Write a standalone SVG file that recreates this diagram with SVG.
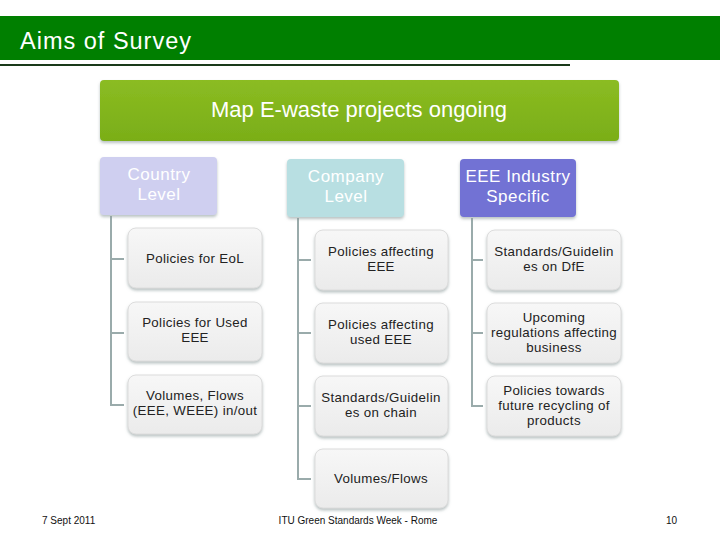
<svg xmlns="http://www.w3.org/2000/svg" width="720" height="540" viewBox="0 0 720 540">
<style>
text{font-family:"Liberation Sans",Arial,sans-serif}
.hd{fill:#fff;font-size:17px;letter-spacing:0.5px;text-anchor:middle}
.ch{fill:#222;font-size:13.3px;letter-spacing:0.35px;text-anchor:middle}
.ft{fill:#111;font-size:10px}
.box{fill:url(#gGray);stroke:#dcdcdc;stroke-width:1;filter:url(#sh)}
.con{stroke:#9aabab;stroke-width:2;fill:none}
</style>
<defs>
<linearGradient id="gGray" x1="0" y1="0" x2="0" y2="1"><stop offset="0" stop-color="#f7f7f7"/><stop offset="1" stop-color="#ebebeb"/></linearGradient>
<linearGradient id="gGreen" x1="0" y1="0" x2="0" y2="1"><stop offset="0" stop-color="#8bbc22"/><stop offset="1" stop-color="#7aae18"/></linearGradient>
<filter id="sh" x="-10%" y="-10%" width="120%" height="130%"><feDropShadow dx="0" dy="2" stdDeviation="1.5" flood-color="#8a9a9a" flood-opacity="0.6"/></filter>
</defs>
<rect width="720" height="540" fill="#fff"/>
<g id="header">
<rect x="0" y="16" width="720" height="44" fill="#007f00"/>
<text x="20" y="49" fill="#fff" font-size="23.5" letter-spacing="1">Aims of Survey</text>
<rect x="0" y="64" width="570" height="2" fill="#1a3a1a"/>
</g>
<g id="connectors">
<path class="con" d="M111 216V405H124M111 259H124M111 333H124"/>
<path class="con" d="M298 218V479H311M298 260H311M298 333H311M298 406H311"/>
<path class="con" d="M472 218V406H483M472 260H483M472 333H483"/>
</g>
<g id="root">
<rect x="100" y="80" width="519" height="61" rx="4" fill="url(#gGreen)" filter="url(#sh)"/>
<text x="359" y="117" fill="#fff" font-size="22" text-anchor="middle">Map E-waste projects ongoing</text>
</g>
<g id="country">
<rect x="100" y="157" width="117" height="58" rx="4" fill="#cfcff0" filter="url(#sh)"/>
<text class="hd" x="159" y="180">Country</text><text class="hd" x="159" y="200">Level</text>
</g>
<g id="company">
<rect x="287" y="159" width="117" height="58" rx="4" fill="#b8dfe2" filter="url(#sh)"/>
<text class="hd" x="346" y="182">Company</text><text class="hd" x="346" y="202">Level</text>
</g>
<g id="industry">
<rect x="460" y="159" width="116" height="58" rx="4" fill="#7272d4" filter="url(#sh)"/>
<text class="hd" x="518" y="182">EEE Industry</text><text class="hd" x="518" y="202">Specific</text>
</g>
<g id="c1"><rect class="box" x="128" y="228" width="134" height="60" rx="8"/><text class="ch" x="195" y="263">Policies for EoL</text></g>
<g id="c2"><rect class="box" x="128" y="302" width="134" height="59" rx="8"/><text class="ch" x="195" y="327">Policies for Used</text><text class="ch" x="195" y="342">EEE</text></g>
<g id="c3"><rect class="box" x="128" y="375" width="134" height="59" rx="8"/><text class="ch" x="195" y="400">Volumes, Flows</text><text class="ch" x="195" y="415">(EEE, WEEE) in/out</text></g>
<g id="p1"><rect class="box" x="315" y="230" width="133" height="60" rx="8"/><text class="ch" x="381" y="256">Policies affecting</text><text class="ch" x="381" y="271">EEE</text></g>
<g id="p2"><rect class="box" x="315" y="303" width="133" height="60" rx="8"/><text class="ch" x="381" y="329">Policies affecting</text><text class="ch" x="381" y="344">used EEE</text></g>
<g id="p3"><rect class="box" x="315" y="376" width="133" height="60" rx="8"/><text class="ch" x="381" y="402">Standards/Guidelin</text><text class="ch" x="381" y="417">es on chain</text></g>
<g id="p4"><rect class="box" x="315" y="449" width="133" height="59" rx="8"/><text class="ch" x="381" y="483">Volumes/Flows</text></g>
<g id="e1"><rect class="box" x="487" y="230" width="134" height="60" rx="8"/><text class="ch" x="554" y="256">Standards/Guidelin</text><text class="ch" x="554" y="271">es on DfE</text></g>
<g id="e2"><rect class="box" x="487" y="303" width="134" height="60" rx="8"/><text class="ch" x="554" y="322">Upcoming</text><text class="ch" x="554" y="337">regulations affecting</text><text class="ch" x="554" y="352">business</text></g>
<g id="e3"><rect class="box" x="487" y="376" width="134" height="60" rx="8"/><text class="ch" x="554" y="395">Policies towards</text><text class="ch" x="554" y="410">future recycling of</text><text class="ch" x="554" y="425">products</text></g>
<g id="footer">
<text class="ft" x="42" y="524">7 Sept 2011</text>
<text class="ft" x="358" y="524" text-anchor="middle">ITU Green Standards Week - Rome</text>
<text class="ft" x="677" y="524" text-anchor="end">10</text>
</g>
</svg>
